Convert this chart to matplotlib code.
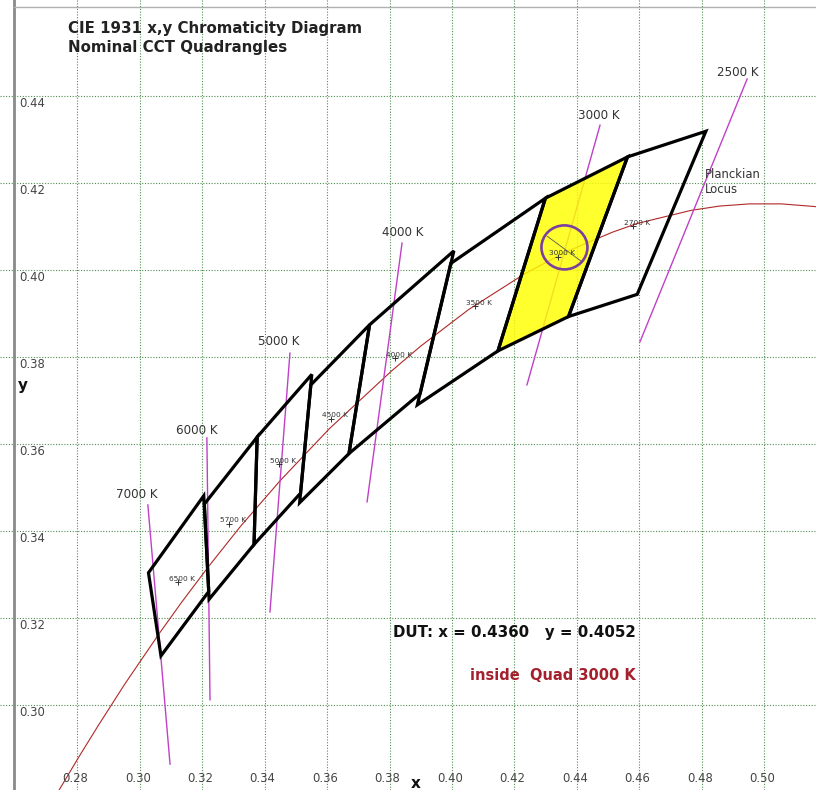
import matplotlib
matplotlib.use("Agg")
import matplotlib.pyplot as plt
from matplotlib.patches import Polygon, Ellipse

# ---------------- data ----------------
x_ticks = [0.28, 0.30, 0.32, 0.34, 0.36, 0.38, 0.40, 0.42, 0.44, 0.46, 0.48, 0.50]
y_ticks = [0.30, 0.32, 0.34, 0.36, 0.38, 0.40, 0.42, 0.44]

# Planckian locus (CIE 1931 x, y) for a range of colour temperatures
planck_T = [1800, 1900, 2000, 2100, 2200, 2300, 2400, 2500, 2700, 2800, 3000, 3200,
            3500, 3800, 4000, 4500, 5000, 5500, 6000, 6500, 7000, 8000, 9000, 10000, 12000]
planck_x = [0.5496, 0.5381, 0.5269, 0.5160, 0.5055, 0.4953, 0.4857, 0.4765, 0.4593, 0.4514,
            0.4366, 0.4232, 0.4053, 0.3898, 0.3805, 0.3607, 0.3450, 0.3323, 0.3220, 0.3135,
            0.3064, 0.2952, 0.2870, 0.2807, 0.2718]
planck_y = [0.4081, 0.4111, 0.4133, 0.4146, 0.4152, 0.4152, 0.4147, 0.4137, 0.4107, 0.4087,
            0.4042, 0.3991, 0.3909, 0.3824, 0.3767, 0.3635, 0.3516, 0.3411, 0.3318, 0.3237,
            0.3166, 0.3048, 0.2956, 0.2883, 0.2776]

# ANSI nominal CCT quadrangles
quad_names = ["2700 K", "3000 K", "3500 K", "4000 K", "4500 K", "5000 K", "5700 K", "6500 K"]
quad_cx = [0.4578, 0.4338, 0.4073, 0.3818, 0.3611, 0.3447, 0.3287, 0.3123]
quad_cy = [0.4101, 0.4030, 0.3917, 0.3797, 0.3658, 0.3553, 0.3417, 0.3282]
quad_x = [[0.4813, 0.4562, 0.4373, 0.4593],
          [0.4562, 0.4299, 0.4147, 0.4373],
          [0.4299, 0.3996, 0.3889, 0.4147],
          [0.4006, 0.3736, 0.3670, 0.3898],
          [0.3736, 0.3548, 0.3512, 0.3670],
          [0.3551, 0.3376, 0.3366, 0.3515],
          [0.3376, 0.3207, 0.3222, 0.3366],
          [0.3205, 0.3028, 0.3068, 0.3221]]
quad_y = [[0.4319, 0.4260, 0.3893, 0.3944],
          [0.4260, 0.4165, 0.3814, 0.3893],
          [0.4165, 0.4015, 0.3690, 0.3814],
          [0.4044, 0.3874, 0.3578, 0.3716],
          [0.3874, 0.3736, 0.3465, 0.3578],
          [0.3760, 0.3616, 0.3369, 0.3487],
          [0.3616, 0.3462, 0.3243, 0.3369],
          [0.3481, 0.3304, 0.3113, 0.3261]]
highlight_quad = "3000 K"

# isotherm (CCT) lines: end points
iso_names = ["7000 K", "6000 K", "5000 K", "4000 K", "3000 K", "2500 K"]
iso_x1 = [0.3026, 0.3215, 0.3481, 0.3840, 0.4474, 0.4945]
iso_y1 = [0.3460, 0.3614, 0.3809, 0.4062, 0.4333, 0.4439]
iso_x2 = [0.3097, 0.3225, 0.3417, 0.3728, 0.4240, 0.4602]
iso_y2 = [0.2864, 0.3012, 0.3214, 0.3467, 0.3736, 0.3835]
iso_lbl_x = [0.2991, 0.3183, 0.3446, 0.3843, 0.4471, 0.4916]
iso_lbl_y = [0.3485, 0.3632, 0.3835, 0.4087, 0.4356, 0.4455]

# device under test
dut_x = 0.4360
dut_y = 0.4052

# ---------------- figure ----------------
W, H = 816, 790
fig = plt.figure(figsize=(W / 100, H / 100), dpi=100)
ax = fig.add_axes([0, 0, 1, 1])
ax.set_xlim(0.25525, 0.51656)
ax.set_ylim(0.28046, 0.46207)
for s in ax.spines.values():
    s.set_visible(False)
ax.set_xticks(x_ticks)
ax.set_yticks(y_ticks)
ax.tick_params(length=0, labelbottom=False, labelleft=False)
ax.grid(True, color="#4f8f4f", linestyle=(0, (1, 1.5)), linewidth=0.8)
ax.set_axisbelow(True)

# frame: grey left bar, thin top line
fig.add_artist(plt.Line2D([13.5 / W, 13.5 / W], [0, 1], color="#8a8a8a", lw=2.0))
fig.add_artist(plt.Line2D([13.5 / W, 1], [1 - 7 / H, 1 - 7 / H], color="#b0b0b0", lw=1.0))

# tick labels drawn inside the plot
px_x = 1 / 3122.7
px_y = 1 / 4350.0
for t in x_ticks:
    ax.text(t - 2 * px_x, 0.44 - (778 - 96) * px_y, f"{t:.2f}", ha="center", va="center",
            fontsize=8.4, color="#444444")
for t in y_ticks:
    ax.text(0.28 - (77.3 - 19) * px_x, t - 1 * px_y, f"{t:.2f}", ha="left", va="top",
            fontsize=8.4, color="#444444")
ax.text(0.28 + (416 - 77.3) * px_x, 0.44 - (788 - 96) * px_y, "x", ha="center",
        va="baseline", fontsize=11, fontweight="bold", color="#111111")
ax.text(0.28 - (77.3 - 18) * px_x, 0.44 - (385 - 96) * px_y, "y", ha="left", va="center",
        fontsize=11, fontweight="bold", color="#111111")

# Planckian locus
ax.plot(planck_x, planck_y, color="#b02828", lw=0.8, zorder=2)

# isotherms
for name, x1, y1, x2, y2, lx, ly in zip(iso_names, iso_x1, iso_y1, iso_x2, iso_y2,
                                        iso_lbl_x, iso_lbl_y):
    ax.plot([x1, x2], [y1, y2], color="#c040c8", lw=1.0, zorder=2)
    ax.text(lx, ly, name, ha="center", va="center", fontsize=8.6, color="#333333", zorder=6)

ax.text(0.28 + (705 - 77.3) * px_x, 0.44 - (168 - 96) * px_y, "Planckian\nLocus",
        ha="left", va="top", fontsize=8.4, color="#333333", linespacing=1.15, zorder=6)

# quadrangles
for name, qx, qy in zip(quad_names, quad_x, quad_y):
    pts = list(zip(qx, qy))
    if name == highlight_quad:
        ax.add_patch(Polygon(pts, closed=True, facecolor="#ffff00", edgecolor="none",
                             alpha=0.82, zorder=3))
    ax.add_patch(Polygon(pts, closed=True, facecolor="none", edgecolor="black",
                         lw=2.3, joinstyle="miter", zorder=4))

# quadrangle centre markers / labels
for name, cx, cy in zip(quad_names, quad_cx, quad_cy):
    ax.plot([cx], [cy], marker="+", color="#333333", ms=4, mew=0.7, zorder=5)
    ax.annotate(name, (cx, cy), xytext=(3, 2.5), textcoords="offset points",
                ha="center", va="center", fontsize=5.3, color="#333333", zorder=6)

# DUT circle
ax.add_patch(Ellipse((dut_x, dut_y), 46 * px_x, 44 * px_y, facecolor="none",
                     edgecolor="#7d3f9f", lw=1.9, zorder=5))
ax.plot([dut_x - 17 * px_x, dut_x + 17 * px_x], [dut_y + 11 * px_y, dut_y - 14 * px_y],
        color="#555555", lw=0.6, zorder=5)

ax.text(0.28 + (636 - 77.3) * px_x, 0.44 - (632 - 96) * px_y,
        f"DUT: x = {dut_x:.4f}   y = {dut_y:.4f}", ha="right", va="center",
        fontsize=10.8, fontweight="bold", color="#111111", zorder=6)
ax.text(0.28 + (636 - 77.3) * px_x, 0.44 - (675 - 96) * px_y,
        f"inside  Quad {highlight_quad}", ha="right", va="center",
        fontsize=10.5, fontweight="bold", color="#a3202c", zorder=6)

# title
fig.text(68 / W, 1 - 33 / H, "CIE 1931 x,y Chromaticity Diagram", ha="left",
         va="baseline", fontsize=10.8, fontweight="bold", color="#222222")
fig.text(68 / W, 1 - 52 / H, "Nominal CCT Quadrangles", ha="left",
         va="baseline", fontsize=10.8, fontweight="bold", color="#222222")

fig.savefig("out.png", dpi=100)
